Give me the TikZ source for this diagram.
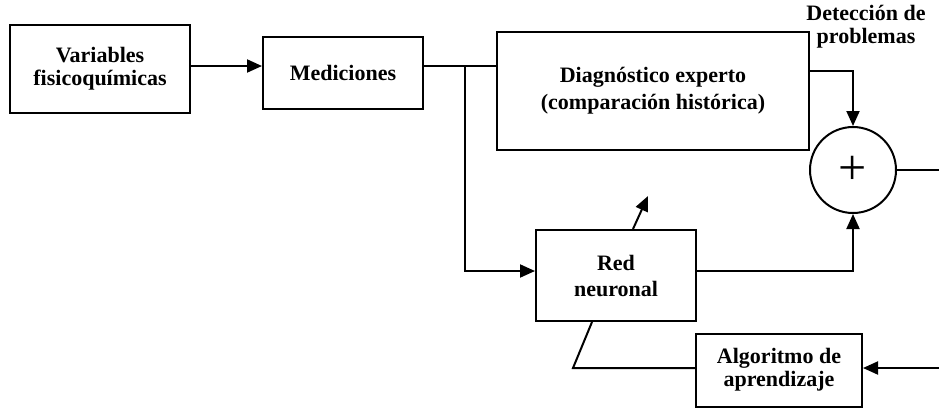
\documentclass[tikz,border=0pt]{standalone}
\usepackage{fontspec}
\setmainfont{Liberation Serif}
\usetikzlibrary{arrows.meta}
\begin{document}
\begin{tikzpicture}[x=1pt,y=-1pt,
  lbl/.style={inner sep=0pt, align=center, font=\bfseries\fontsize{22}{23}\selectfont},
  box/.style={lbl, draw, line width=2pt},
  conn/.style={line width=2pt},
  arr/.style={conn, -{Triangle[length=15pt,width=13pt]}},
]
\useasboundingbox (0,0) rectangle (939,408);

% blocks
\node[box, minimum width=180pt, minimum height=88pt] (v) at (100,69) {Variables\\fisicoquímicas};
\node[box, minimum width=160pt, minimum height=72pt] (m) at (343,73) {Mediciones};
\node[box, minimum width=312pt, minimum height=118pt,
      font=\bfseries\fontsize{22}{27}\selectfont] (d) at (653,91) {Diagnóstico experto\\(comparación histórica)};
\node[box, minimum width=160pt, minimum height=91pt,
      font=\bfseries\fontsize{22}{26}\selectfont] (r) at (616,275.5) {Red\\neuronal};
\node[box, minimum width=166pt, minimum height=73pt] (a) at (779,370) {Algoritmo de\\aprendizaje};
\node[draw, circle, line width=2pt, minimum size=86pt, inner sep=0pt,
      font=\fontsize{50}{50}\selectfont] (s) at (853,170) {+};
\node[lbl] (lab) at (866,27) {Detección de\\problemas};

% routing points
\coordinate (b) at (465,66);
\coordinate (c3) at (465,271);
\coordinate (c4) at (853,71);
\coordinate (t1) at (648,196);
\coordinate (c2) at (573,368);
\coordinate (o1) at (939,170);
\coordinate (i1) at (939,368);

% connectors
\draw[arr] (v.east |- b) -- (m.west |- b);
\draw[conn] (m.east |- b) -- (d.west |- b);
\draw[arr] (b) -- (c3) -- (r.west |- c3);
\draw[arr] (d.east |- c4) -| (s.north);
\draw[arr] (r.east |- c3) -| (s.south);
\draw[conn] (s.east) -- (o1);
\draw[arr] ([xshift=17pt]r.north) -- (t1);
\draw[arr] (i1) -- (a.east |- i1);
\draw[conn] ([xshift=-24pt]r.south) -- (c2) -- (a.west |- c2);
\end{tikzpicture}
\end{document}
